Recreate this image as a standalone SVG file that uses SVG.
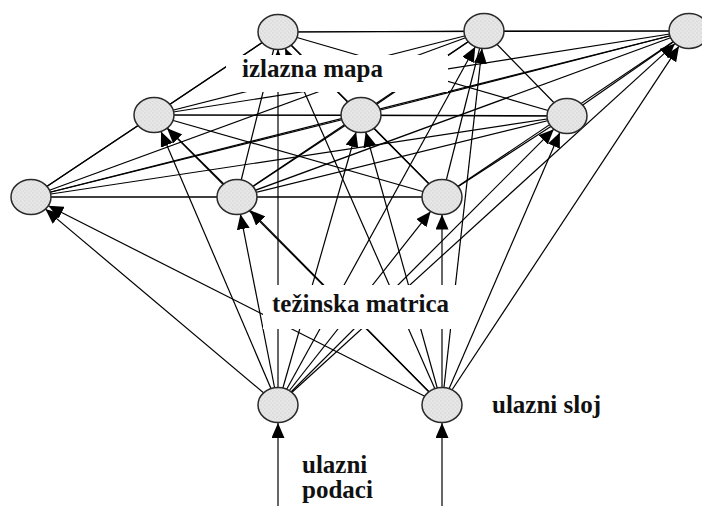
<svg xmlns="http://www.w3.org/2000/svg" width="702" height="506" viewBox="0 0 702 506">
<defs>
<pattern id="dots" width="4" height="4" patternUnits="userSpaceOnUse">
<rect width="4" height="4" fill="#e6e6e6"/>
<circle cx="1" cy="1" r="0.6" fill="#c4c4c4"/>
<circle cx="3" cy="3" r="0.6" fill="#cfcfcf"/>
</pattern>
<marker id="ah" markerUnits="userSpaceOnUse" markerWidth="15" markerHeight="13" refX="15" refY="6.5" orient="auto">
<path d="M0,0 L15,6.5 L0,13 Z" fill="#000"/>
</marker>
</defs>
<style>
.l{stroke:#000;stroke-width:1.2;fill:none}
.a{stroke:#000;stroke-width:1.2;fill:none;marker-end:url(#ah)}
.n{fill:url(#dots);stroke:#2a2a2a;stroke-width:1.5}
.t{font-family:"Liberation Serif","Times New Roman",serif;font-weight:bold;font-size:25px;fill:#111}
.m{fill:#fff}
</style>
<rect width="702" height="506" fill="#fff"/>
<g id="connectors">
<g id="lateral">
<line class="l" x1="278" y1="32" x2="484" y2="31"/>
<line class="l" x1="278" y1="32" x2="689" y2="31"/>
<line class="l" x1="278" y1="32" x2="154" y2="115"/>
<line class="l" x1="278" y1="32" x2="361" y2="115"/>
<line class="l" x1="278" y1="32" x2="567" y2="116"/>
<line class="l" x1="278" y1="32" x2="31" y2="197"/>
<line class="l" x1="278" y1="32" x2="237" y2="197"/>
<line class="l" x1="278" y1="32" x2="442" y2="197"/>
<line class="l" x1="484" y1="31" x2="689" y2="31"/>
<line class="l" x1="484" y1="31" x2="154" y2="115"/>
<line class="l" x1="484" y1="31" x2="361" y2="115"/>
<line class="l" x1="484" y1="31" x2="567" y2="116"/>
<line class="l" x1="484" y1="31" x2="31" y2="197"/>
<line class="l" x1="484" y1="31" x2="237" y2="197"/>
<line class="l" x1="484" y1="31" x2="442" y2="197"/>
<line class="l" x1="689" y1="31" x2="154" y2="115"/>
<line class="l" x1="689" y1="31" x2="361" y2="115"/>
<line class="l" x1="689" y1="31" x2="567" y2="116"/>
<line class="l" x1="689" y1="31" x2="31" y2="197"/>
<line class="l" x1="689" y1="31" x2="237" y2="197"/>
<line class="l" x1="689" y1="31" x2="442" y2="197"/>
<line class="l" x1="154" y1="115" x2="361" y2="115"/>
<line class="l" x1="154" y1="115" x2="567" y2="116"/>
<line class="l" x1="154" y1="115" x2="31" y2="197"/>
<line class="l" x1="154" y1="115" x2="237" y2="197"/>
<line class="l" x1="154" y1="115" x2="442" y2="197"/>
<line class="l" x1="361" y1="115" x2="567" y2="116"/>
<line class="l" x1="361" y1="115" x2="31" y2="197"/>
<line class="l" x1="361" y1="115" x2="237" y2="197"/>
<line class="l" x1="361" y1="115" x2="442" y2="197"/>
<line class="l" x1="567" y1="116" x2="31" y2="197"/>
<line class="l" x1="567" y1="116" x2="237" y2="197"/>
<line class="l" x1="567" y1="116" x2="442" y2="197"/>
<line class="l" x1="31" y1="197" x2="237" y2="197"/>
<line class="l" x1="31" y1="197" x2="442" y2="197"/>
<line class="l" x1="237" y1="197" x2="442" y2="197"/>
</g>
<g id="weights">
<line class="a" x1="278" y1="405" x2="278" y2="49.5"/>
<line class="a" x1="278" y1="405" x2="475.3" y2="46.8"/>
<line class="a" x1="278" y1="405" x2="675.1" y2="43.6"/>
<line class="a" x1="278" y1="405" x2="161.0" y2="131.4"/>
<line class="a" x1="278" y1="405" x2="356.1" y2="132.0"/>
<line class="a" x1="278" y1="405" x2="553.8" y2="129.2"/>
<line class="a" x1="278" y1="405" x2="45.4" y2="209.1"/>
<line class="a" x1="278" y1="405" x2="240.4" y2="214.2"/>
<line class="a" x1="278" y1="405" x2="430.6" y2="211.4"/>
<line class="a" x1="442" y1="405" x2="285.2" y2="48.3"/>
<line class="a" x1="442" y1="405" x2="482.0" y2="48.4"/>
<line class="a" x1="442" y1="405" x2="679.0" y2="46.2"/>
<line class="a" x1="442" y1="405" x2="167.1" y2="128.2"/>
<line class="a" x1="442" y1="405" x2="365.7" y2="132.0"/>
<line class="a" x1="442" y1="405" x2="559.9" y2="132.4"/>
<line class="a" x1="442" y1="405" x2="48.3" y2="205.8"/>
<line class="a" x1="442" y1="405" x2="250.1" y2="210.3"/>
<line class="a" x1="442" y1="405" x2="442" y2="214.5"/>
</g>
<g id="inputs">
<line class="a" x1="278" y1="506" x2="278" y2="423"/>
<line class="a" x1="442" y1="506" x2="442" y2="423"/>
</g>
</g>
<g id="label-izlazna-mapa">
<rect class="m" x="226" y="55" width="222" height="37"/>
<text class="t" x="242" y="77">izlazna mapa</text>
</g>
<g id="label-tezinska-matrica">
<rect class="m" x="263" y="285" width="195" height="44"/>
<text class="t" x="272" y="312">težinska matrica</text>
</g>
<g id="label-ulazni-sloj"><text class="t" x="492" y="413">ulazni sloj</text></g>
<g id="label-ulazni-podaci"><text class="t" x="302" y="473">ulazni</text><text class="t" x="302" y="498">podaci</text></g>
<g id="node-A1"><ellipse class="n" cx="278" cy="32" rx="20" ry="17.5"/></g>
<g id="node-A2"><ellipse class="n" cx="484" cy="31" rx="20" ry="17.5"/></g>
<g id="node-A3"><ellipse class="n" cx="689" cy="31" rx="20" ry="17.5"/></g>
<g id="node-B1"><ellipse class="n" cx="154" cy="115" rx="20" ry="17.5"/></g>
<g id="node-B2"><ellipse class="n" cx="361" cy="115" rx="20" ry="17.5"/></g>
<g id="node-B3"><ellipse class="n" cx="567" cy="116" rx="20" ry="17.5"/></g>
<g id="node-C1"><ellipse class="n" cx="31" cy="197" rx="20" ry="17.5"/></g>
<g id="node-C2"><ellipse class="n" cx="237" cy="197" rx="20" ry="17.5"/></g>
<g id="node-C3"><ellipse class="n" cx="442" cy="197" rx="20" ry="17.5"/></g>
<g id="node-D1"><ellipse class="n" cx="278" cy="405" rx="20" ry="17.5"/></g>
<g id="node-D2"><ellipse class="n" cx="442" cy="405" rx="20" ry="17.5"/></g>
</svg>
